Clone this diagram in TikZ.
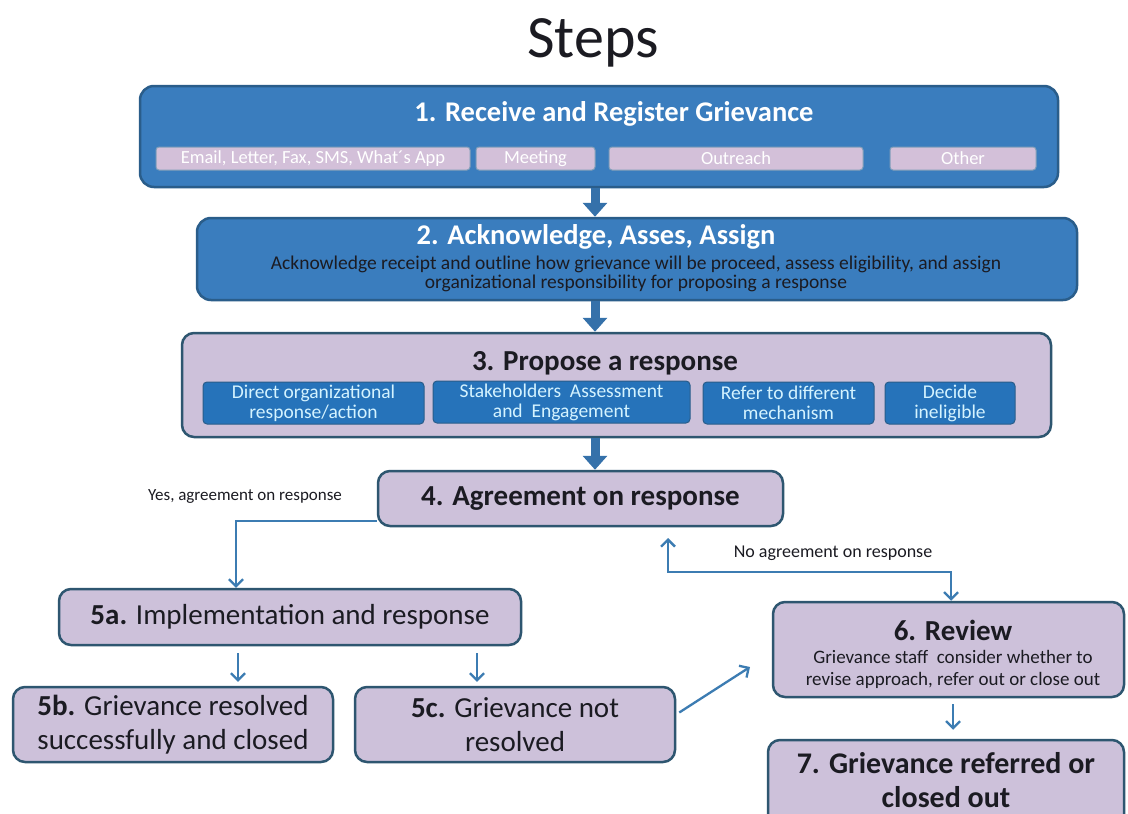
\documentclass[tikz,border=0pt]{standalone}
\usepackage{fontspec}
\setmainfont{Carlito}
\usetikzlibrary{arrows.meta,calc}
\definecolor{dkblue}{HTML}{3A7DBE}
\definecolor{dkborder}{HTML}{2A5D8A}
\definecolor{lav}{HTML}{CDC1DA}
\definecolor{lavborder}{HTML}{2E5670}
\definecolor{arrowblue}{HTML}{3C7CB2}
\definecolor{thickarrow}{HTML}{3571AA}
\definecolor{subtext}{HTML}{D4F3FF}
\definecolor{subblue}{HTML}{2673BA}
\definecolor{sublav}{HTML}{D3C0D9}
\definecolor{ink}{HTML}{1B1B22}
\tikzset{
  bluebox/.style={draw=dkborder, line width=2.5pt, fill=dkblue, rounded corners=14pt, inner sep=0pt},
  lavbox/.style={draw=lavborder, line width=2.5pt, fill=lav, rounded corners=12pt, inner sep=0pt},
  chipL/.style={draw=dkborder!60, line width=1pt, fill=sublav, rounded corners=3pt, text=white, inner sep=0pt, minimum height=23pt, font=\fontsize{18.5}{20}\selectfont},
  chipB/.style={draw=dkborder, line width=1pt, fill=subblue, rounded corners=4pt, text=subtext, align=center, inner sep=0pt, minimum height=42pt, font=\fontsize{19.5}{20}\selectfont},
  bigarrow/.style={draw=thickarrow, line width=9pt, -{Triangle[width=24pt,length=14pt]}},
  arr/.style={draw=arrowblue, line width=2.3pt, -{Straight Barb[length=7pt,width=14pt]}},
  arrboth/.style={draw=arrowblue, line width=2.3pt, {Straight Barb[length=7pt,width=14pt]}-{Straight Barb[length=7pt,width=14pt]}},
  btitle/.style={text=white, font=\bfseries\fontsize{28.5}{32}\selectfont},
  ltitle/.style={text=ink, font=\bfseries\fontsize{29}{34}\selectfont, align=center},
  lbody/.style={text=ink, font=\fontsize{29}{34}\selectfont, align=center},
  small/.style={text=ink, font=\fontsize{17}{20}\selectfont, align=center}
}
\begin{document}
\begin{tikzpicture}[x=1pt,y=-1pt]
\useasboundingbox (0,0) rectangle (1128,814);
\fill[white] (0,0) rectangle (1128,814);

\node[anchor=base, text=ink, font=\fontsize{60}{70}\selectfont] (title) at (593,57) {Steps};

% Step 1
\node[bluebox, minimum width=918pt, minimum height=101pt] (b1) at (599,136.5) {};
\node[btitle] (t1) at (614,114) {1. Receive and Register Grievance};
\node[chipL, minimum width=314pt] (s11) at (313,158.5) {Email, Letter, Fax, SMS, What´s App};
\node[chipL, minimum width=119pt] (s12) at (535.5,158.5) {Meeting};
\node[chipL, minimum width=254pt] (s13) at (736,158.5) {Outreach};
\node[chipL, minimum width=146pt] (s14) at (963,158.5) {Other};

% Step 2
\node[bluebox, minimum width=880pt, minimum height=82pt] (b2) at (637,259) {};
\node[btitle] (t2) at (596,237) {2. Acknowledge, Asses, Assign};
\node[text=ink, align=center, font=\fontsize{19.5}{19}\selectfont] (d2) at (636,274) {Acknowledge receipt and outline how grievance will be proceed, assess eligibility, and assign\\organizational responsibility for proposing a response};

% Step 3
\node[lavbox, minimum width=869pt, minimum height=104pt] (b3) at (616.5,385) {};
\node[ltitle] (t3) at (605,363) {3. Propose a response};
\node[chipB, minimum width=221pt] (s31) at (313.5,403) {Direct organizational\\response/action};
\node[chipB, minimum width=257pt] (s32) at (561.5,402) {Stakeholders~ Assessment\\and~ Engagement};
\node[chipB, minimum width=171pt] (s33) at (788.5,403) {Refer to different\\mechanism};
\node[chipB, minimum width=130pt] (s34) at (950,403) {Decide\\ineligible};

% Step 4
\node[lavbox, minimum width=405pt, minimum height=55pt, ltitle] (b4) at (580.5,498.5) {4. Agreement on response};

% Step 5
\node[lavbox, minimum width=462pt, minimum height=56pt, lbody] (b5a) at (290,617) {\textbf{5a.} Implementation and response};
\node[lavbox, minimum width=320pt, minimum height=75pt, lbody] (b5b) at (173,724.5) {\textbf{5b.} Grievance resolved\\successfully and closed};
\node[lavbox, minimum width=320pt, minimum height=75pt, lbody] (b5c) at (515,724.5) {\textbf{5c.} Grievance not\\resolved};

% Step 6
\node[lavbox, minimum width=351pt, minimum height=95pt] (b6) at (948.5,649.5) {};
\node[ltitle] (t6) at (953,630) {6. Review};
\node[text=ink, align=center, font=\fontsize{19}{22}\selectfont] (d6) at (953,669) {Grievance staff~ consider whether to\\revise approach, refer out or close out};

% Step 7
\node[lavbox, minimum width=356pt, minimum height=90pt] (b7) at (946,785) {};
\node[ltitle, font=\bfseries\fontsize{30}{34}\selectfont] (t7) at (946,780) {7. Grievance referred or\\closed out};

% labels
\node[small] (ly) at (245,497) {Yes, agreement on response};
\node[small, font=\fontsize{18}{21}\selectfont] (ln) at (833,553) {No agreement on response};

% thick arrows
\coordinate (ax) at (595,0);
\draw[bigarrow] (b1.south -| ax) -- (b2.north -| ax);
\draw[bigarrow] (b2.south -| ax) -- (b3.north -| ax);
\draw[bigarrow] (b3.south -| ax) -- (b4.north -| ax);

% thin connectors
\coordinate (yx) at (236,0);
\draw[arr] ([yshift=6pt]b4.south west) -| (b5a.north -| yx);

\coordinate (na) at (668,538);
\coordinate (nr) at (951,572);
\draw[arrboth] (na) |- (nr) -- (nr |- b6.north);

\coordinate (x5b) at (238,0);
\draw[arr, shorten <=7pt, shorten >=4pt] (b5a.south -| x5b) -- (b5b.north -| x5b);
\coordinate (x5c) at (477,0);
\draw[arr, shorten <=7pt, shorten >=4pt] (b5a.south -| x5c) -- (b5c.north -| x5c);

\coordinate (x7) at (953,0);
\draw[arr, shorten <=6pt, shorten >=9pt] (b6.south -| x7) -- (b7.north -| x7);

\coordinate (c6) at (750,667);
\draw[arr] ($(b5c.east)+(3,-12)$) -- (c6);
\end{tikzpicture}
\end{document}
